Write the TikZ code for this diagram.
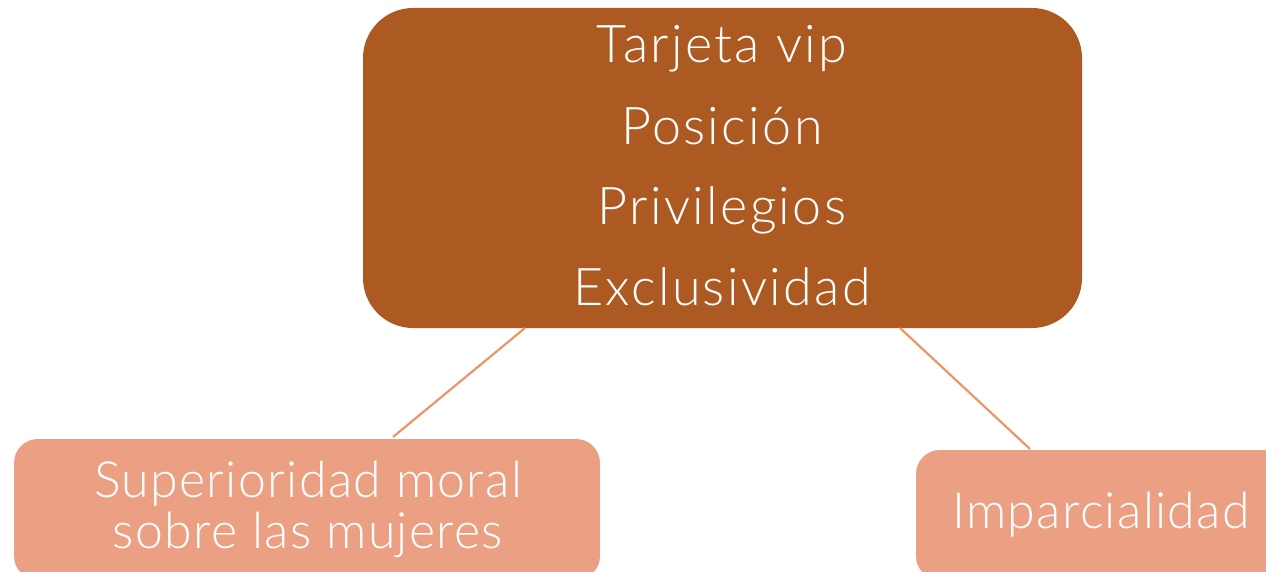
\documentclass[tikz,border=0pt]{standalone}
\usepackage{fontspec}
\setmainfont{Lato Light}
\newfontfamily\topfont{Lato Light}[LetterSpace=4.5]
\newfontfamily\leaffont{Lato Light}[LetterSpace=2.7]
\usetikzlibrary{calc}
\definecolor{topbrown}{HTML}{AD5A22}
\definecolor{leafsalmon}{HTML}{ECA083}
\definecolor{linkorange}{HTML}{EE9568}
\begin{document}
\begin{tikzpicture}[x=1pt,y=-1pt,
  boxbase/.style={inner sep=0pt,outer sep=0pt},
  bigtxt/.style={text=white,font=\topfont\fontsize{52}{60}\selectfont,inner sep=0pt,anchor=base},
  leaftxt/.style={text=white,font=\leaffont\fontsize{50}{51}\selectfont,inner sep=0pt,anchor=base},
  link/.style={draw=linkorange,line width=2.2pt}]
\useasboundingbox (0,0) rectangle (1266,572);
\clip (0,0) rectangle (1266,572);
\fill[white] (0,0) rectangle (1266,572);
% boxes
\node[boxbase,fill=topbrown,rounded corners=50pt,minimum width=719pt,minimum height=320pt] (top) at (722.5,168) {};
\node[boxbase,fill=leafsalmon,rounded corners=24pt,minimum width=586pt,minimum height=141pt] (left) at (307,509.5) {};
\node[boxbase,fill=leafsalmon,rounded corners=24pt,minimum width=400pt,minimum height=130pt] (right) at (1116,515) {};
% texts
\node[bigtxt] (t1) at (722,63) {Tarjeta vip};
\node[bigtxt] (t2) at (722,145) {Posición};
\node[bigtxt] (t3) at (722,225) {Privilegios};
\node[bigtxt] (t4) at (722,305) {Exclusividad};
\node[leaftxt] (l1) at (308,497) {Superioridad moral};
\node[leaftxt] (l2) at (308,548) {sobre las mujeres};
\node[leaftxt] (r1) at (1101,528) {Imparcialidad};
% connectors
\coordinate (ta) at ($(top.south west)+(162,0)$);
\coordinate (tb) at ($(top.south east)+(-182,0)$);
\coordinate (la) at ($(left.north west)+(379,-2)$);
\coordinate (rb) at ($(right.north west)+(114,-1)$);
\draw[link] (ta) -- (la);
\draw[link] (tb) -- (rb);
\end{tikzpicture}
\end{document}
